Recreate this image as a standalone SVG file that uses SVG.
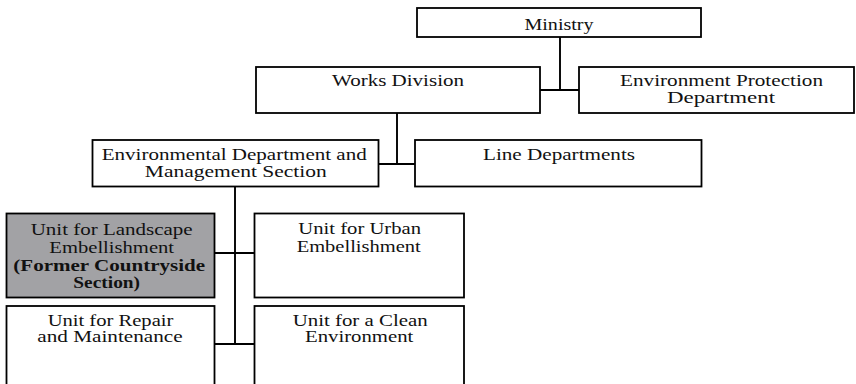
<svg xmlns="http://www.w3.org/2000/svg" width="856" height="384" viewBox="0 0 856 384">
<style>
.box{fill:#ffffff;stroke:#000000;stroke-width:1.8}
.gray{fill:#a2a2a5;stroke:#000000;stroke-width:1.8}
.t{font-family:"Liberation Serif","Times New Roman",Times,serif;font-size:16px;fill:#111111;text-anchor:middle}
.b{font-weight:bold}
.c{stroke:#000000;stroke-width:1.9;fill:none}
</style>
<rect width="856" height="384" fill="#ffffff"/>
<g id="connectors">
<path class="c" d="M560,37 V90 M540,90 H579"/>
<path class="c" d="M397,113 V164 M378,164 H415"/>
<path class="c" d="M235,187 V344 M214,253 H254 M214,344 H254"/>
</g>
<g id="ministry">
<rect class="box" x="417" y="8" width="284" height="29"/>
<text class="t" x="559" y="30" textLength="69" lengthAdjust="spacingAndGlyphs">Ministry</text>
</g>
<g id="works">
<rect class="box" x="256" y="67" width="284" height="46"/>
<text class="t" x="398" y="85.7" textLength="132" lengthAdjust="spacingAndGlyphs">Works Division</text>
</g>
<g id="epd">
<rect class="box" x="579" y="67" width="275" height="46"/>
<text class="t" x="721.5" y="85.7" textLength="203" lengthAdjust="spacingAndGlyphs">Environment Protection</text>
<text class="t" x="721" y="103.3" textLength="108" lengthAdjust="spacingAndGlyphs">Department</text>
</g>
<g id="envdept">
<rect class="box" x="92.5" y="140" width="286" height="46.5"/>
<text class="t" x="234.2" y="160" textLength="265" lengthAdjust="spacingAndGlyphs">Environmental Department and</text>
<text class="t" x="235.8" y="176.7" textLength="182" lengthAdjust="spacingAndGlyphs">Management Section</text>
</g>
<g id="linedept">
<rect class="box" x="415" y="140" width="286.5" height="46.5"/>
<text class="t" x="559" y="160" textLength="152" lengthAdjust="spacingAndGlyphs">Line Departments</text>
</g>
<g id="landscape">
<rect class="gray" x="6.5" y="213.5" width="208" height="84"/>
<text class="t" x="111.7" y="234.5" textLength="162" lengthAdjust="spacingAndGlyphs">Unit for Landscape</text>
<text class="t" x="111.7" y="252.5" textLength="124.7" lengthAdjust="spacingAndGlyphs">Embellishment</text>
<text class="t b" x="109.2" y="270.5" textLength="191.7" lengthAdjust="spacingAndGlyphs">(Former Countryside</text>
<text class="t b" x="106.7" y="288" textLength="66.7" lengthAdjust="spacingAndGlyphs">Section)</text>
</g>
<g id="urban">
<rect class="box" x="254.5" y="213.5" width="209.5" height="84"/>
<text class="t" x="359.7" y="233.5" textLength="122.7" lengthAdjust="spacingAndGlyphs">Unit for Urban</text>
<text class="t" x="358.7" y="251.7" textLength="124" lengthAdjust="spacingAndGlyphs">Embellishment</text>
</g>
<g id="repair">
<rect class="box" x="6.5" y="306" width="208" height="90"/>
<text class="t" x="110.5" y="326" textLength="125.7" lengthAdjust="spacingAndGlyphs">Unit for Repair</text>
<text class="t" x="110" y="342" textLength="145.3" lengthAdjust="spacingAndGlyphs">and Maintenance</text>
</g>
<g id="clean">
<rect class="box" x="254.5" y="306" width="209.5" height="90"/>
<text class="t" x="360.2" y="326" textLength="135" lengthAdjust="spacingAndGlyphs">Unit for a Clean</text>
<text class="t" x="359.2" y="342" textLength="108.3" lengthAdjust="spacingAndGlyphs">Environment</text>
</g>
</svg>
